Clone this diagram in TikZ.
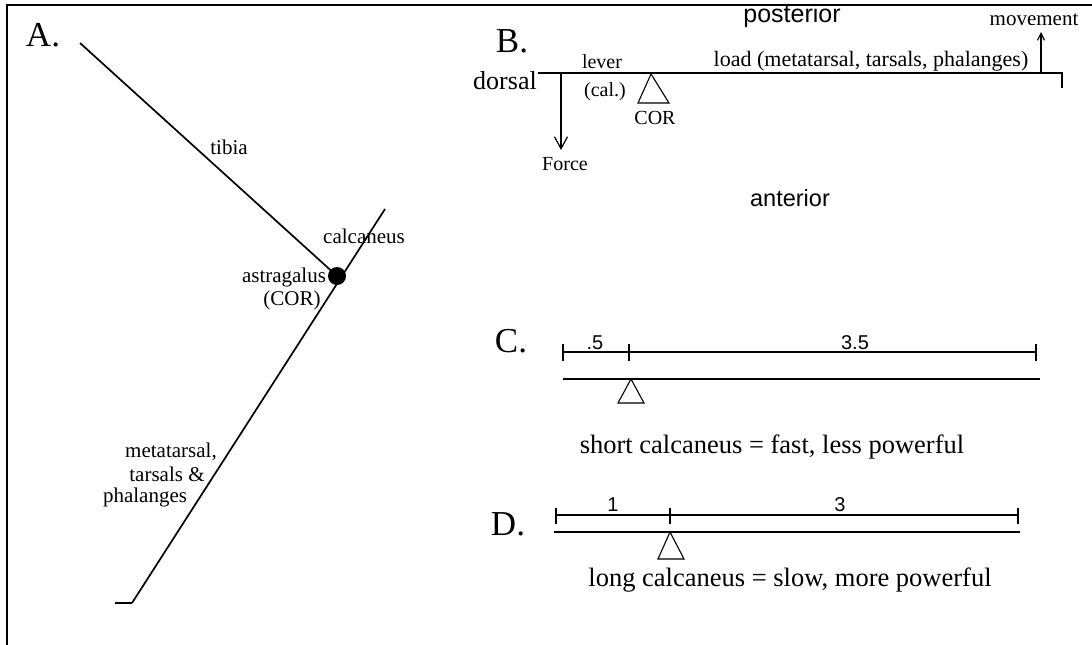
\documentclass[tikz,border=0pt]{standalone}
\usepackage{fontspec}
\setmainfont{Liberation Serif}
\newfontfamily\arialfont{Liberation Sans}
\usetikzlibrary{arrows.meta}

\begin{document}
\begin{tikzpicture}[x=1pt,y=-1pt,
  frame/.style={line width=2.6pt},
  bone/.style={line width=1.7pt},
  beam/.style={line width=1.3pt},
  pivot/.style={line width=1.1pt},
  txt/.style={inner sep=0pt, font=\fontsize{21}{24}\selectfont},
  small/.style={inner sep=0pt, font=\fontsize{20}{23}\selectfont},
  panel/.style={inner sep=0pt, font=\fontsize{35}{40}\selectfont},
  caption/.style={inner sep=0pt, font=\fontsize{26.5}{30}\selectfont},
  sans/.style={inner sep=0pt, font=\arialfont\fontsize{25}{28}\selectfont},
  num/.style={inner sep=0pt, font=\arialfont\fontsize{20}{23}\selectfont},
  bigarrow/.style={-{Straight Barb[length=12pt,width=13pt,line width=1.2pt]}},
  smallarrow/.style={-{Straight Barb[length=7pt,width=7pt,line width=1.2pt]}}
]
\useasboundingbox (0,0) rectangle (1092,645);

% outer frame: top and left edges only
\draw[frame] (7,645) -- (7,5) -- (1092,5);

% ---------------- A: the hind limb ----------------
\node[panel] (labA) at (43,35) {A.};
\coordinate (knee) at (80,43);
\coordinate (heel) at (385,209);
\coordinate (toe) at (132,603);
\coordinate (toeEnd) at (115,603);
\node[circle, fill=black, minimum size=18pt, inner sep=0pt] (astr) at (337,276) {};
\draw[bone] (knee) -- (astr.center);
\draw[bone] (heel) -- (toe);
\draw[line width=2.6pt] (toe) -- (toeEnd);
\node[txt] (tibia) at (229,147) {tibia};
\node[txt] (calc) at (364,236) {calcaneus};
\node[txt] (astrLbl) at (284,277) {astragalus};
\node[txt] (corA) at (292,300) {(COR)};
\node[txt] (meta1) at (171,452) {metatarsal,};
\node[txt] (meta2) at (167,474) {tarsals \&};
\node[txt] (meta3) at (145,497) {phalanges};

% ---------------- B: the lever ----------------
\node[panel] (labB) at (512,41) {B.};
\node[txt, font=\fontsize{26}{29}\selectfont] (dorsal) at (505,81) {dorsal};
\node[sans] (post) at (792,16) {posterior};
\node[sans, font=\arialfont\fontsize{23.5}{27}\selectfont] (ant) at (790,198) {anterior};
\coordinate (bL) at (538,73);
\coordinate (bR) at (1062,73);
\coordinate (bRdown) at (1062,88);
\draw[beam] (bL) -- (bR) -- (bRdown);
\coordinate (forceTop) at (561,73);
\coordinate (forceTip) at (561,150);
\draw[beam, bigarrow] (forceTop) -- (forceTip);
\node[small] (force) at (565,164) {Force};
\coordinate (moveFoot) at (1041,73);
\coordinate (moveTip) at (1041,32);
\draw[beam, smallarrow] (moveFoot) -- (moveTip);
\node[txt] (move) at (1034,20) {movement};
\draw[pivot] (651,74) -- (638,103) -- (669,103) -- cycle;
\node[small] (corB) at (655,118) {COR};
\node[small] (lever) at (602,62) {lever};
\node[small] (cal) at (605,92) {(cal.)};
\node[txt, font=\fontsize{22}{25}\selectfont] (load) at (871,61) {load (metatarsal, tarsals, phalanges)};

% ---------------- C: short calcaneus ----------------
\node[panel] (labC) at (511,341) {C.};
\coordinate (c0) at (563,352);
\coordinate (c1) at (629,352);
\coordinate (c2) at (1036,352);
\draw[beam] (c0) -- (c2);
\foreach \p in {c0,c1,c2} \draw[beam] ([yshift=-9pt]\p) -- ([yshift=8pt]\p);
\node[num] (cHalf) at (595,343) {.5};
\node[num] (cRest) at (855,343) {3.5};
\coordinate (cbL) at (563,379);
\coordinate (cbR) at (1040,379);
\draw[beam] (cbL) -- (cbR);
\draw[pivot] (631,379) -- (618,403) -- (644,403) -- cycle;
\node[caption] (capC) at (772,447) {short calcaneus = fast, less powerful};

% ---------------- D: long calcaneus ----------------
\node[panel] (labD) at (508,524) {D.};
\coordinate (d0) at (556,515);
\coordinate (d1) at (670,515);
\coordinate (d2) at (1018,515);
\draw[beam] (d0) -- (d2);
\foreach \p in {d0,d1,d2} \draw[beam] ([yshift=-9pt]\p) -- ([yshift=7pt]\p);
\node[num] (dOne) at (613,505) {1};
\node[num] (dRest) at (840,505) {3};
\coordinate (dbL) at (554,532);
\coordinate (dbR) at (1020,532);
\draw[beam] (dbL) -- (dbR);
\draw[pivot] (670,532) -- (658,559) -- (684,559) -- cycle;
\node[caption] (capD) at (790,580) {long calcaneus = slow, more powerful};
\end{tikzpicture}
\end{document}
